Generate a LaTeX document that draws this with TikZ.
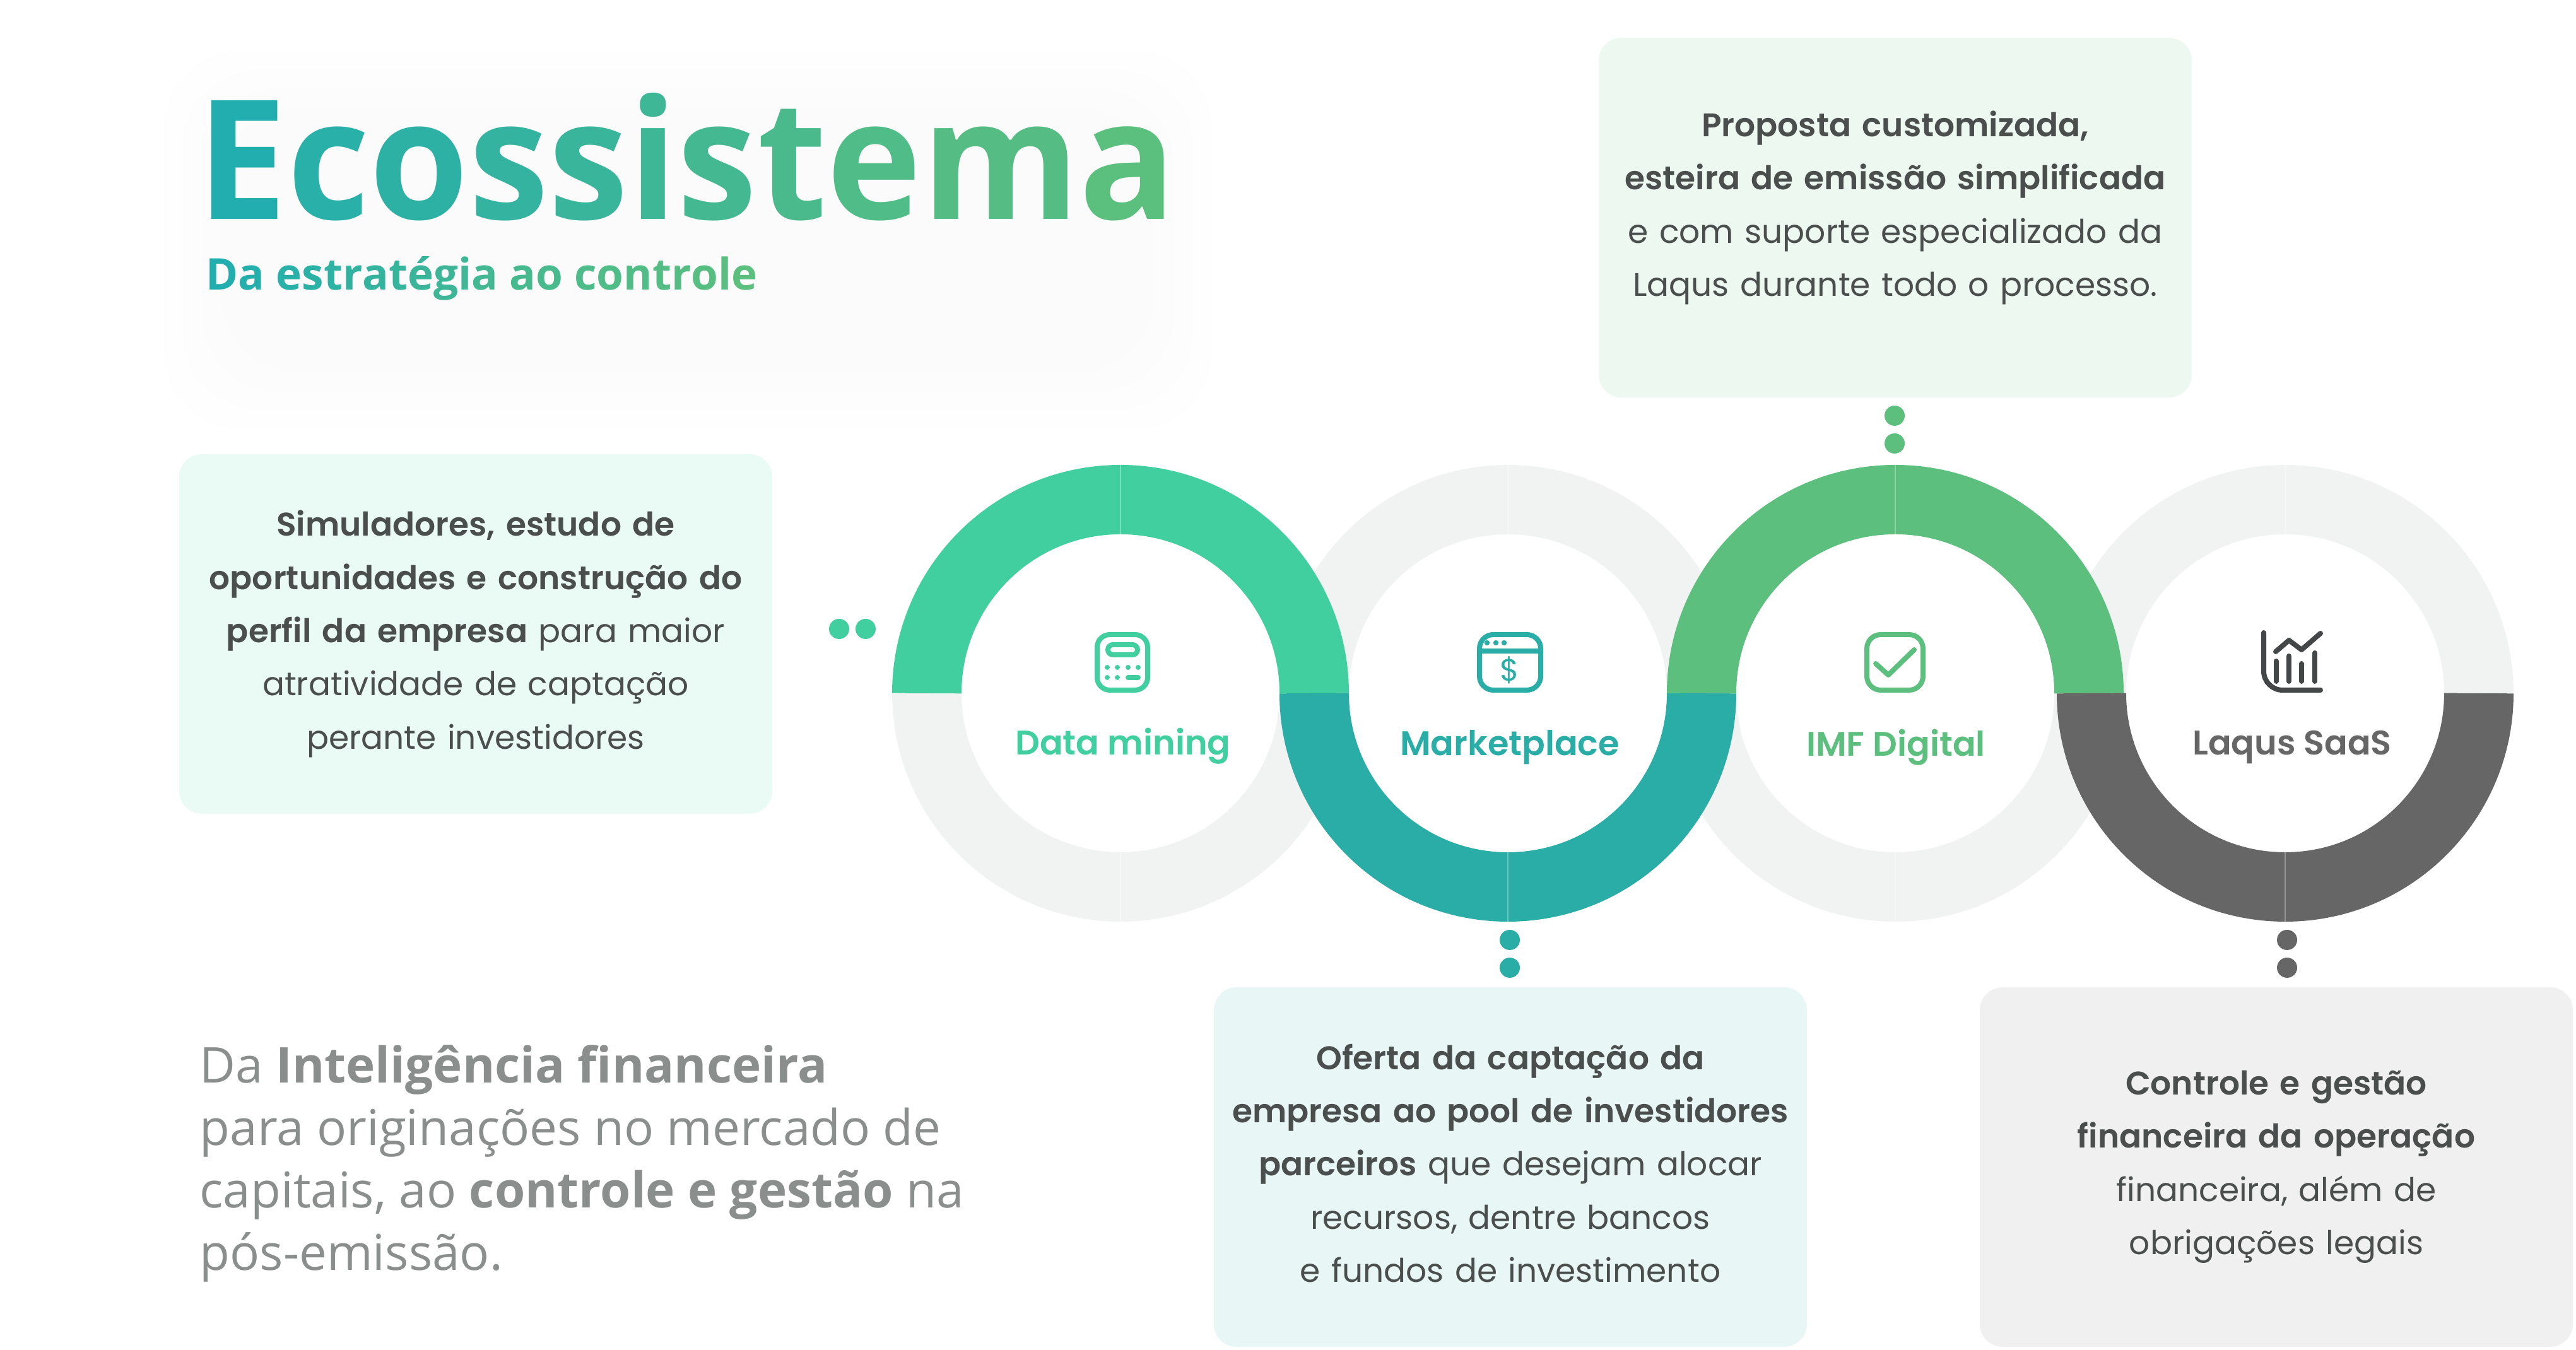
\documentclass[tikz,border=0pt]{standalone}
\usepackage{fontspec}
\setmainfont{Poppins}[BoldFont={Poppins SemiBold}]
\newfontfamily\headfont{Open Sans}
\newfontfamily\titlefont{Open Sans}[FakeStretch=.965]
\usepackage{tikz}
\usetikzlibrary{calc}
\definecolor{colMining}{HTML}{42CFA0}
\definecolor{colMarket}{HTML}{2AADA6}
\definecolor{colImf}{HTML}{5CBF7E}
\definecolor{colSaas}{HTML}{666666}
\definecolor{colIdle}{HTML}{F1F3F2}
\definecolor{colText}{HTML}{4A4F4E}
\definecolor{colLead}{HTML}{8A8E8D}
\definecolor{colChart}{HTML}{434748}
\definecolor{colTitleA}{HTML}{22AEAE}
\definecolor{colTitleB}{HTML}{5BBF7E}
\newcommand{\tl}[2]{\textcolor{colTitleB!#1!colTitleA}{#2}}
\tikzset{
  ring/.style={ line width=1.1cm }
}
\tikzset{
  infobox/.style={ rounded corners=.36cm, minimum width=9.4cm, minimum height=5.7cm, text width=9.2cm,
    align=center, text=colText, font=\fontsize{14.75}{24}\selectfont, inner sep=0pt }
}
\tikzset{
  ringlabel/.style={ font=\fontsize{15.4}{20}\selectfont\bfseries, inner sep=0pt }
}
\tikzset{
  dotA/.style={ circle, minimum size=.32cm, inner sep=0pt }
}
\tikzset{
  iconline/.style={ line width=.08cm, line cap=round, line join=round }
}
\begin{document}
\begin{tikzpicture}
      \useasboundingbox (0, 0) rectangle (40.83, 21.40);

      % soft glow behind the title
      \foreach \s in {0,.3,.6,.9}
        \fill[black, opacity=.004, rounded corners=1.2cm] (2.6+\s, 14.6+\s) rectangle (19.2-\s, 20.6-\s);

      \node[anchor=base west, inner sep=0pt, font=\titlefont\bfseries\fontsize{75}{80}\selectfont] (title) at (3.12, 17.92)
        {\tl{0}{E}\tl{10}{c}\tl{20}{o}\tl{30}{s}\tl{40}{s}\tl{50}{i}\tl{60}{s}\tl{70}{t}\tl{80}{e}\tl{90}{m}\tl{100}{a}};
      \node[anchor=base west, inner sep=0pt, font=\headfont\bfseries\fontsize{19.7}{26}\selectfont] (subtitle) at (3.26, 16.80)
        {\tl{0}{D}\tl{5}{a} \tl{12}{e}\tl{17}{s}\tl{22}{t}\tl{27}{r}\tl{32}{a}\tl{37}{t}\tl{42}{é}\tl{47}{g}\tl{52}{i}\tl{57}{a} \tl{64}{a}\tl{69}{o} \tl{75}{c}\tl{80}{o}\tl{84}{n}\tl{87}{t}\tl{90}{r}\tl{93}{o}\tl{96}{l}\tl{100}{e}};

      \node[anchor=north west, inner sep=0pt, align=left, text=colLead, font=\headfont\fontsize{22.25}{28.2}\selectfont] (lead) at (3.16, 4.84)
        {Da \textbf{Inteligência financeira}\\para originações no mercado de\\capitais, ao \textbf{controle e gestão} na\\pós-emissão.};

      % idle halves first, coloured ones on top
      \coordinate (cA) at (17.76, 10.41);
      \coordinate (cB) at (23.90, 10.41);
      \coordinate (cC) at (30.04, 10.41);
      \coordinate (cD) at (36.22, 10.41);
      \draw[ring, colIdle] (cA) ++(180:3.07) arc (180:360:3.07);
      \draw[ring, colIdle] (cB) ++(0:3.07) arc (0:180:3.07);
      \draw[ring, colIdle] (cC) ++(180:3.07) arc (180:360:3.07);
      \draw[ring, colIdle] (cD) ++(0:3.07) arc (0:180:3.07);
      \draw[ring, colMining] (cA) ++(180:3.07) arc (180:0:3.07);
      \draw[ring, colMarket] (cB) ++(180:3.07) arc (180:360:3.07);
      \draw[ring, colImf] (cC) ++(180:3.07) arc (180:0:3.07);
      \draw[ring, colSaas] (cD) ++(180:3.07) arc (180:360:3.07);
      \foreach \c in {cA, cB, cC, cD}
        \foreach \a in {90, 270}
          \draw[white, opacity=.3, line width=.012cm] ($(\c)+(\a:2.52)$) -- ($(\c)+(\a:3.62)$);

      \node[infobox, fill=colMining!11] (boxMining) at (7.54, 11.35)
        {\textbf{Simuladores, estudo de}\\\textbf{oportunidades e construção do}\\\textbf{perfil da empresa} para maior\\atratividade de captação\\perante investidores};
      \node[infobox, fill=colMarket!11] (boxMarket) at (23.94, 2.90)
        {\textbf{Oferta da captação da}\\\textbf{empresa ao pool de investidores}\\\textbf{parceiros} que desejam alocar\\recursos, dentre bancos\\e fundos de investimento\\[-.97cm]\strut};
      \node[infobox, fill=colImf!11] (boxImf) at (30.04, 17.95)
        {\textbf{Proposta customizada,}\\\textbf{esteira de emissão simplificada}\\e com suporte especializado da\\Laqus durante todo o processo.\\[-.65cm]\strut};
      \node[infobox, fill=black!6] (boxSaas) at (36.08, 2.90)
        {\textbf{Controle e gestão}\\\textbf{financeira da operação}\\financeira, além de\\obrigações legais};

      \node[dotA, fill=colMining] (dotMa) at (13.30, 11.43) {};
      \node[dotA, fill=colMining] (dotMb) at (13.72, 11.43) {};
      \node[dotA, fill=colMarket] (dotKa) at (23.93, 6.50) {};
      \node[dotA, fill=colMarket] (dotKb) at (23.93, 6.06) {};
      \node[dotA, fill=colImf] (dotIa) at (30.03, 14.81) {};
      \node[dotA, fill=colImf] (dotIb) at (30.03, 14.37) {};
      \node[dotA, fill=colSaas] (dotSa) at (36.25, 6.50) {};
      \node[dotA, fill=colSaas] (dotSb) at (36.25, 6.06) {};

      \node[ringlabel, text=colMining] (labMining) at (17.80, 9.57) {Data mining};
      \node[ringlabel, text=colMarket] (labMarket) at (23.93, 9.55) {Marketplace};
      \node[ringlabel, text=colImf] (labImf) at (30.05, 9.55) {IMF Digital};
      \node[ringlabel, text=colSaas] (labSaas) at (36.33, 9.55) {Laqus SaaS};

      % calculator
      \draw[iconline, colMining, rounded corners=.2cm] (17.39, 10.46) rectangle (18.19, 11.34);
      \draw[iconline, colMining, rounded corners=.08cm] (17.56, 11.02) rectangle (18.03, 11.18);
      \foreach \x in {17.55, 17.71, 17.88, 18.04}
        \fill[colMining] (\x, 10.82) circle (.04);
      \foreach \x in {17.55, 17.71}
        \fill[colMining] (\x, 10.66) circle (.04);
      \draw[iconline, colMining] (17.88, 10.66) -- (18.04, 10.66);

      % browser window
      \draw[iconline, colMarket, rounded corners=.22cm] (23.45, 10.46) rectangle (24.42, 11.34);
      \draw[iconline, colMarket] (23.45, 11.08) -- (24.42, 11.08);
      \foreach \x in {23.57, 23.71, 23.84}
        \fill[colMarket] (\x, 11.21) circle (.042);
      \node[inner sep=0pt, text=colMarket, font=\fontsize{14}{14}\selectfont] (dollar) at (23.93, 10.78) {\$};

      % check box
      \draw[iconline, colImf, rounded corners=.22cm] (29.59, 10.46) rectangle (30.48, 11.34);
      \draw[iconline, colImf] (29.73, 10.88) -- (29.93, 10.70) -- (30.34, 11.10);

      % chart
      \draw[iconline, colChart, rounded corners=.3cm] (35.88, 11.37) -- (35.88, 10.46) -- (36.78, 10.46);
      \draw[iconline, colChart] (36.07, 11.07) -- (36.28, 11.25) -- (36.48, 11.10) -- (36.78, 11.36);
      \draw[iconline, colChart] (36.08, 10.92) -- (36.08, 10.60);
      \draw[iconline, colChart] (36.28, 11.00) -- (36.28, 10.60);
      \draw[iconline, colChart] (36.48, 10.88) -- (36.48, 10.60);
      \draw[iconline, colChart] (36.69, 11.05) -- (36.69, 10.60);
    \end{tikzpicture}
\end{document}
